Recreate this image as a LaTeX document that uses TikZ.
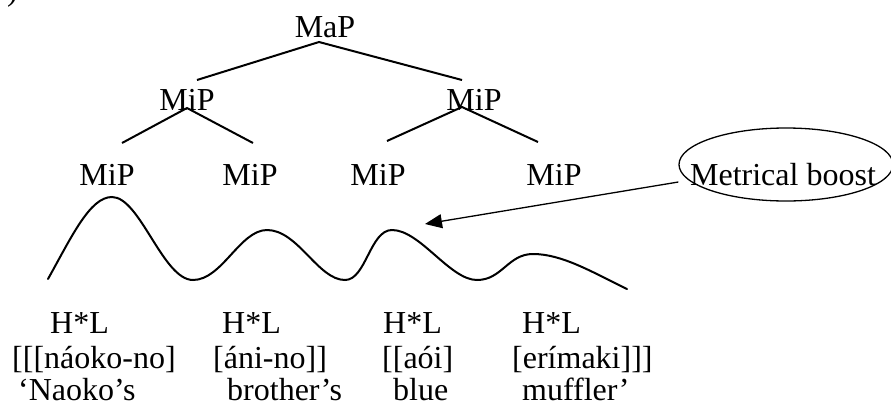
\documentclass[tikz,border=0pt]{standalone}
\usepackage{fontspec}
\setmainfont{Liberation Serif}
\usetikzlibrary{arrows.meta,shapes.geometric}
\begin{document}
\begin{tikzpicture}[x=1pt,y=-1pt,
  txt/.style={inner sep=0pt,anchor=base,font=\fontsize{32}{36}\selectfont},
  ltxt/.style={txt,anchor=base west},
  branch/.style={line width=2pt},
  wave/.style={line width=2pt,line cap=round},
  pointer/.style={line width=1.3pt,-{Triangle[length=17pt,width=14pt]}},
  ring/.style={draw,ellipse,line width=1.3pt,minimum width=214pt,minimum height=73pt,inner sep=0pt}]
\useasboundingbox (0,0) rectangle (891,413);
% clipped paren at the top-left corner
\node[ltxt] (paren) at (7,0.5) {)};
% tree labels
\node[txt] (map) at (325,37) {MaP};
\node[txt] (mipL) at (187,110) {MiP};
\node[txt] (mipR) at (474,110) {MiP};
\node[txt] (mip1) at (107,185) {MiP};
\node[txt] (mip2) at (250,185) {MiP};
\node[txt] (mip3) at (378,185) {MiP};
\node[txt] (mip4) at (554,185) {MiP};
% branch end points
\coordinate (mapB) at (319,42);
\coordinate (mipLT) at (197,80);
\coordinate (mipRT) at (462,80);
\coordinate (mipLB) at (187,108);
\coordinate (mipRB) at (462,107);
\coordinate (mip1T) at (122,143);
\coordinate (mip2T) at (253,143);
\coordinate (mip3T) at (387,141);
\coordinate (mip4T) at (538,142);
\draw[branch] (mipLT) -- (mapB) -- (mipRT);
\draw[branch] (mip1T) -- (mipLB) -- (mip2T);
\draw[branch] (mip3T) -- (mipRB) -- (mip4T);
% metrical boost
\node[ring] (boostshape) at (786,164.5) {};
\node[txt] (boost) at (783,185) {Metrical boost};
\coordinate (target) at (425,224);
\draw[pointer] ([yshift=-17.5pt]boostshape.west) -- (target);
% pitch contour
\coordinate (w0) at (48,279);
\coordinate (w1) at (112,197);
\coordinate (w2) at (193,280);
\coordinate (w3) at (267,230);
\coordinate (w4) at (345,280);
\coordinate (w5) at (392,230);
\coordinate (w6) at (477,280);
\coordinate (w7) at (533,254);
\coordinate (w8) at (627,289);
\draw[wave] (w0) .. controls (72,236) and (90,197) .. (w1)
  .. controls (140,197) and (163,280) .. (w2)
  .. controls (222,280) and (240,230) .. (w3)
  .. controls (298,230) and (318,280) .. (w4)
  .. controls (366,280) and (370,230) .. (w5)
  .. controls (420,230) and (450,280) .. (w6)
  .. controls (502,280) and (508,254) .. (w7)
  .. controls (562,254) and (592,272) .. (w8);
% tone labels
\node[ltxt] (h1) at (50,333) {H*L};
\node[ltxt] (h2) at (222,333) {H*L};
\node[ltxt] (h3) at (383,333) {H*L};
\node[ltxt] (h4) at (522,333) {H*L};
% words
\node[ltxt] (b1) at (12,368) {[[[náoko-no]};
\node[ltxt] (b2) at (213,368) {[áni-no]]};
\node[ltxt] (b3) at (382,368) {[[aói]};
\node[ltxt] (b4) at (512,368) {[erímaki]]]};
% gloss
\node[ltxt] (g1) at (18,400) {‘Naoko’s};
\node[ltxt] (g2) at (227,400) {brother’s};
\node[ltxt] (g3) at (393,400) {blue};
\node[ltxt] (g4) at (522,400) {muffler’};
\end{tikzpicture}
\end{document}
